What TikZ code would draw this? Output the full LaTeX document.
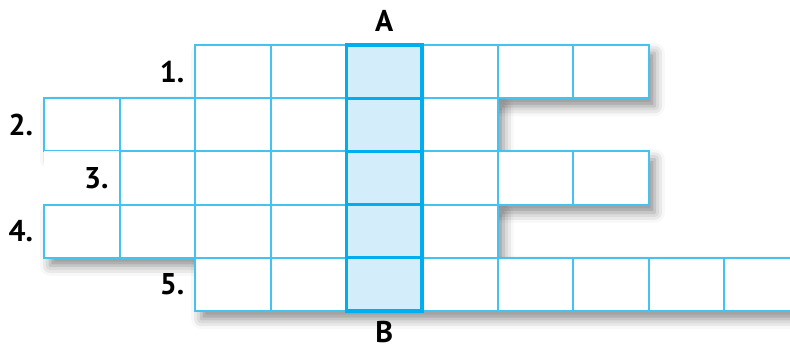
\documentclass[tikz,border=0pt]{standalone}
\usepackage{xcolor}
\usepackage{fontspec}
\setmainfont{PT Sans}
\usepackage{tikz}
\usetikzlibrary{matrix, positioning, backgrounds, shadows.blur}

\definecolor{gridblue}{HTML}{45C3F0}
\definecolor{keyblue}{HTML}{00AEEF}
\definecolor{keyfill}{HTML}{D3EEFA}

\begin{document}
\begin{tikzpicture}[
	num/.style={inner sep=0pt, outer sep=0pt, font=\bfseries\fontsize{15}{17}\selectfont},
	gap/.style={draw=none, fill=none},
	blank/.style={draw=none, fill=white},
	keycell/.style={draw=keyblue, fill=keyfill, line width=1.6pt, minimum width=37.8pt, minimum height=26.6pt, inner sep=0pt, anchor=center},
	rowshadow/.style={fill=white, blur shadow={shadow xshift=3pt, shadow yshift=-4pt, shadow blur radius=5pt, shadow opacity=45}}
	]
			\useasboundingbox (0,0) rectangle (395pt,-174.5pt);
			\matrix (m) [matrix of nodes, nodes in empty cells,
			anchor=north west, inner sep=0pt, outer sep=0pt,
			nodes={draw=gridblue, fill=white, line width=1pt, minimum width=37.8pt, minimum height=26.6pt, inner sep=0pt, anchor=center},
			column sep=-1pt,
			row sep=-1pt] at (21.5pt,-22pt) {
				|[gap]| & |[gap]| & & & & & & \\
				& & & & & \\
				|[blank]| & & & & & & & \\
				& & & & & \\
				|[gap]| & |[gap]| & & & & & & & & \\
			};
			% column A-B
			\foreach \r in {1,...,5}
				\node[keycell] at (m-\r-5) {};
			\node[num, above=7pt of m-1-5] (A) {A};
			\node[num, below=5pt of m-5-5] (B) {B};
			% clue numbers
			\node[num, left=5.5pt of m-1-3] (n1) {1.};
			\node[num, left=5.5pt of m-2-1] (n2) {2.};
			\node[num, left=5.5pt of m-3-2] (n3) {3.};
			\node[num, left=5.5pt of m-4-1] (n4) {4.};
			\node[num, left=5.5pt of m-5-3] (n5) {5.};
			\begin{scope}[on background layer]
				\path[rowshadow] (m-1-3.north west) rectangle (m-1-8.south east);
				\path[rowshadow] (m-2-1.north west) rectangle (m-2-6.south east);
				\path[rowshadow] (m-3-2.north west) rectangle (m-3-8.south east);
				\path[rowshadow] (m-4-1.north west) rectangle (m-4-6.south east);
				\path[rowshadow] (m-5-3.north west) rectangle (m-5-10.south east);
			\end{scope}
		\end{tikzpicture}
\end{document}
